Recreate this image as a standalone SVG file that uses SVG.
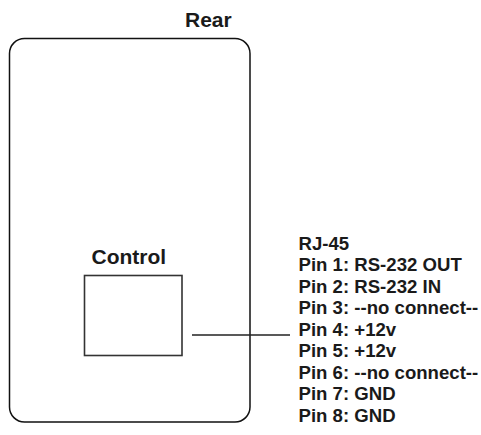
<svg xmlns="http://www.w3.org/2000/svg" width="481" height="435" viewBox="0 0 481 435">
<style>
  .t { font-family: "Liberation Sans", Arial, sans-serif; font-weight: bold; fill: #1a1a1a; }
  .title { font-size: 21px; }
  .pin { font-size: 18.6px; }
  .frame { fill: #fff; stroke: #111; stroke-width: 1.5; }
  .port { fill: #fff; stroke: #333; stroke-width: 1.6; }
  .wire { stroke: #222; stroke-width: 1.3; fill: none; }
</style>
<rect width="481" height="435" fill="#fff"/>
<g id="rear">
  <text class="t title" x="185" y="26.5">Rear</text>
  <rect class="frame" x="9.5" y="38.5" width="240.5" height="383.5" rx="15" ry="15"/>
</g>
<g id="control">
  <text class="t title" x="91.5" y="263.5">Control</text>
  <rect class="port" x="84.5" y="275.5" width="97.5" height="80"/>
</g>
<g id="connectors">
  <line class="wire" x1="192" y1="335" x2="290" y2="335"/>
</g>
<g id="pinout">
  <text class="t pin" x="298.5" y="249.5">RJ-45</text>
  <text class="t pin" x="298.5" y="271">Pin 1: RS-232 OUT</text>
  <text class="t pin" x="298.5" y="292.5">Pin 2: RS-232 IN</text>
  <text class="t pin" x="298.5" y="314">Pin 3: --no connect--</text>
  <text class="t pin" x="298.5" y="335.5">Pin 4: +12v</text>
  <text class="t pin" x="298.5" y="357">Pin 5: +12v</text>
  <text class="t pin" x="298.5" y="378.5">Pin 6: --no connect--</text>
  <text class="t pin" x="298.5" y="400">Pin 7: GND</text>
  <text class="t pin" x="298.5" y="421.5">Pin 8: GND</text>
</g>
</svg>
